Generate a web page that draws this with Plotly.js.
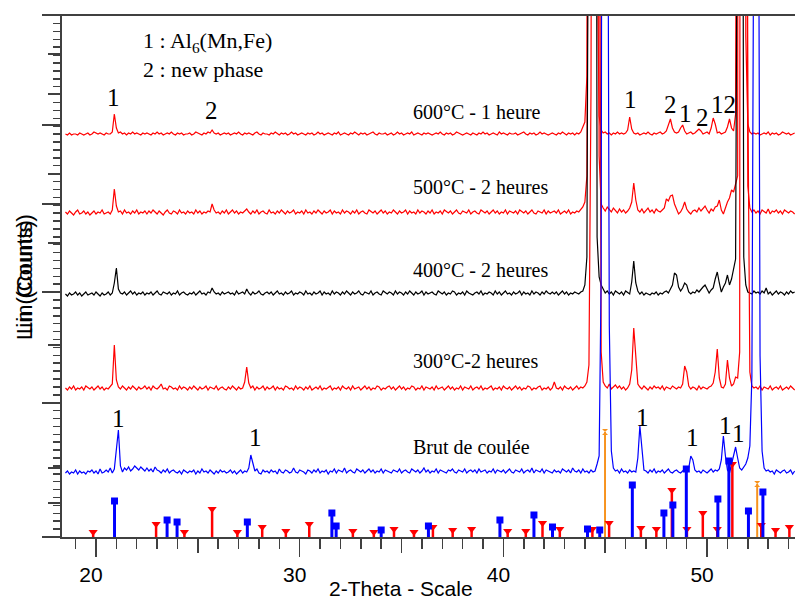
<!DOCTYPE html>
<html>
<head>
<meta charset="utf-8">
<script src="https://cdn.plot.ly/plotly-3.0.1.min.js"></script>
<style>html,body{margin:0;padding:0;background:#fff}</style>
</head>
<body>
<div id="chart" style="width:795px;height:600px"></div>
<script>
// 2-theta sampling of the scans
const scanStart = 18.5;
const scanStep = 0.1;

// Diffractograms (counts above each scan's own baseline)
const scan600 = [
  2,1,3,1,2,2,1,3,2,1,2,3,1,2,4,3,2,3,2,1,
  3,2,2,4,22,8,3,4,2,3,1,3,2,4,2,3,2,1,3,2,
  3,2,1,3,2,4,2,3,1,2,3,2,4,2,1,3,2,3,1,2,
  2,3,1,2,4,3,2,1,3,2,4,3,6,3,2,3,1,2,3,2,
  3,1,2,3,2,4,2,1,3,2,3,2,1,3,4,2,1,3,2,2,
  1,3,2,4,2,1,3,2,3,1,2,4,2,3,1,2,3,2,1,3,
  2,3,1,2,4,2,3,1,2,3,2,1,3,2,4,1,2,3,2,1,
  3,2,4,2,1,3,2,3,1,2,3,4,2,1,3,2,2,3,1,2,
  3,1,2,4,2,3,1,2,3,2,4,1,2,3,2,1,3,2,3,2,
  1,2,3,2,4,2,1,3,2,3,1,2,4,3,2,1,2,3,2,1,
  3,2,1,3,2,4,2,3,1,2,3,2,1,4,2,3,2,1,3,2,
  2,3,1,2,3,4,2,1,3,2,3,1,2,4,2,3,2,1,2,3,
  2,1,3,2,4,2,1,3,2,3,1,3,2,4,9,14,60,900,3000,3000,
  3000,200,20,6,3,4,2,3,1,3,2,4,2,3,2,3,6,19,7,3,
  2,3,1,2,3,2,4,2,1,3,2,3,4,2,3,5,10,17,8,4,
  3,4,8,11,5,2,3,4,2,3,5,7,5,2,3,4,2,8,18,12,
  3,4,2,3,4,9,17,8,5,22,1000,3000,3000,3000,100,12,4,2,3,2,
  3,1,2,3,2,4,1,3,2,3,1,2,4,3,2,3,1,2,3
];
const scan500 = [
  4,2,5,3,1,4,6,2,3,5,2,4,1,3,5,2,4,3,6,2,
  3,4,2,6,27,10,4,5,2,6,3,4,2,5,3,6,2,4,3,5,
  2,5,3,6,4,2,5,3,1,4,6,3,2,5,4,2,6,3,4,2,
  5,3,4,2,6,3,5,2,4,3,5,4,12,6,3,4,2,5,3,6,
  2,4,6,3,5,2,4,3,5,7,4,2,5,3,6,2,4,5,3,2,
  6,3,4,2,5,3,6,4,2,5,3,4,6,2,4,3,5,2,6,3,
  4,2,5,3,6,4,2,5,3,4,6,2,5,3,4,2,6,3,5,4,
  2,5,3,6,2,4,5,3,2,6,4,3,5,2,4,6,3,5,2,4,
  3,6,4,2,5,3,4,6,2,5,3,4,2,6,3,5,4,2,5,3,
  6,2,4,3,5,2,6,4,3,5,2,4,6,3,2,5,4,3,6,2,
  4,5,3,2,6,4,3,5,2,4,6,3,5,2,4,3,6,2,5,4,
  3,5,2,6,4,3,5,2,4,6,3,2,5,4,3,6,2,5,3,4,
  5,3,6,2,4,5,3,6,2,4,3,5,4,6,9,14,40,560,3000,3000,
  3000,1000,60,12,8,5,9,6,4,8,5,3,7,4,6,3,5,8,14,33,
  16,6,4,7,3,5,8,4,6,3,7,5,4,6,8,17,15,20,21,12,
  6,2,4,8,14,7,4,2,5,6,4,8,5,7,10,6,3,7,5,9,
  10,16,6,2,9,14,18,26,24,32,40,3000,3000,3000,800,30,8,4,6,3,
  5,2,6,4,3,7,2,5,4,6,3,5,2,6,4,3,5,4,2
];
const scan400 = [
  3,1,4,2,3,5,2,4,1,3,5,2,3,4,2,5,3,1,4,2,
  3,5,2,4,14,29,8,4,3,5,2,4,6,3,5,2,4,3,5,2,
  4,3,5,2,4,6,3,2,5,4,3,5,2,4,3,6,2,4,5,3,
  2,4,3,5,2,4,6,3,4,2,5,4,9,5,3,4,2,5,3,4,
  5,3,4,2,6,3,4,5,3,8,4,2,5,3,4,6,3,2,4,5,
  3,5,2,4,6,3,4,2,5,3,4,6,2,4,3,5,4,2,6,3,
  4,2,5,3,4,6,2,5,3,4,2,6,3,5,4,2,5,3,6,4,
  2,5,3,4,6,3,2,5,4,3,6,2,4,5,3,2,6,4,3,5,
  4,2,6,3,5,4,2,5,3,6,4,2,5,3,4,6,2,5,3,4,
  5,3,2,6,4,3,5,2,4,3,6,5,2,4,3,5,2,6,4,3,
  2,4,5,3,6,2,4,3,5,4,2,6,3,5,2,4,6,3,4,2,
  5,3,4,6,2,5,3,4,2,6,3,5,4,2,5,3,6,4,3,5,
  3,5,2,4,6,3,5,2,4,3,5,4,3,5,6,12,40,600,3000,3000,
  1500,60,20,12,8,4,6,3,5,2,6,4,3,5,2,6,4,3,15,36,
  14,6,3,5,2,4,3,2,4,3,5,2,4,3,5,6,4,8,12,24,
  22,10,6,9,14,12,5,3,5,4,7,5,8,10,12,8,4,7,9,18,
  25,14,5,10,14,22,12,18,30,38,520,3000,1000,40,12,5,4,3,6,4,
  5,3,6,4,9,3,5,2,4,6,3,5,4,2,5,3,6,4,5
];
const scan300 = [
  4,2,5,3,6,2,4,3,5,2,6,4,3,5,2,4,6,3,5,2,
  4,3,5,8,47,12,5,3,6,4,2,5,3,6,4,2,5,3,4,6,
  3,5,2,6,4,3,5,8,3,4,2,6,5,3,4,2,6,3,5,4,
  2,5,3,6,4,2,5,3,4,6,2,5,4,3,6,2,4,5,3,2,
  5,3,6,4,2,5,3,4,10,25,9,4,6,2,5,3,4,6,2,5,
  3,4,6,2,5,3,4,2,6,5,3,4,2,6,3,5,4,2,5,3,
  6,2,4,5,3,6,2,4,3,5,6,2,4,3,5,2,6,4,3,5,
  2,6,3,4,5,2,4,6,3,5,2,4,3,6,5,2,4,3,5,6,
  3,5,2,4,6,3,5,2,4,3,6,5,2,4,3,6,2,5,4,3,
  5,2,6,3,4,5,2,4,6,3,5,2,4,3,6,2,5,4,3,6,
  2,4,5,3,6,2,4,3,5,6,2,4,3,5,2,6,4,3,5,2,
  4,6,3,5,2,4,3,6,5,2,4,3,5,6,2,4,3,5,2,4,
  10,4,3,5,2,6,4,3,5,2,4,6,3,5,4,6,10,27,300,3000,
  3000,3000,700,40,10,6,4,8,3,5,7,4,6,3,5,2,4,8,22,64,
  30,8,5,3,6,4,2,5,3,6,4,5,3,6,2,5,4,3,6,4,
  3,5,4,8,26,20,6,3,5,4,2,6,3,5,4,3,5,6,9,20,
  43,14,5,4,8,32,14,6,8,15,14,40,3000,3000,3000,300,20,6,4,5,
  3,6,2,5,4,3,6,2,4,5,3,6,2,4,5,3,6,4,2
];
const scanCast = [
  3,5,2,4,3,6,2,5,3,4,2,5,4,6,3,5,2,7,3,4,
  6,4,8,3,7,30,46,10,4,8,6,9,5,7,10,8,6,9,7,5,
  8,5,7,4,9,6,5,3,6,4,7,3,5,6,4,3,5,2,6,4,
  3,5,4,6,2,5,3,7,4,5,3,6,4,2,5,3,6,4,5,3,
  4,6,3,5,2,4,6,3,5,4,8,21,14,5,7,3,2,6,4,5,
  3,6,4,5,2,7,4,3,6,5,3,4,8,4,3,6,5,4,2,6,
  5,3,6,4,7,3,5,4,6,2,5,4,7,3,6,5,4,8,3,5,
  6,4,3,7,5,4,6,3,5,7,4,6,3,5,4,7,3,6,5,4,
  3,6,5,4,7,3,5,6,4,3,7,5,4,6,3,5,8,4,6,3,
  5,4,7,3,6,5,4,3,6,5,7,4,3,6,5,4,7,3,5,6,
  4,6,3,7,4,5,6,3,5,4,7,3,6,5,4,6,3,5,7,4,
  3,6,5,4,7,3,5,6,4,8,3,6,5,4,7,3,6,5,4,3,
  6,4,5,3,7,5,4,6,3,8,5,4,6,3,7,4,5,3,6,4,
  5,12,20,200,600,3000,800,150,25,8,5,6,3,7,4,5,3,6,4,5,
  4,18,50,30,6,5,3,6,4,7,3,5,4,6,3,5,7,4,3,5,
  6,4,3,5,7,4,8,20,16,6,4,5,3,6,4,3,5,7,4,6,
  5,7,16,40,20,6,3,12,22,29,18,8,6,9,12,18,30,100,620,3000,
  800,120,25,8,5,6,4,5,2,6,4,3,5,6,3,4,6,2,5
];

// Vertical stacking of the scans
const scanNames = ['600°C - 1 heure', '500°C - 2 heures', '400°C - 2 heures', '300°C-2 heures', 'Brut de coulée'];
const scanBaselines = [401, 321, 240, 145, 61];
const scanColors = ['#ff0000', '#ff0000', '#000000', '#ff0000', '#0000ff'];

// Reference patterns (stick positions and relative intensities)
const refBluePos = [20.91, 23.49, 23.98, 27.43, 31.58, 31.79, 34.0, 36.32, 39.83, 41.50, 42.41, 44.13, 44.73, 46.33, 47.88, 48.32, 48.98, 50.53, 51.07, 52.03, 52.74];
const refBlueInt = [36, 17, 15, 15, 24, 11, 7, 11, 17, 22, 10, 8, 7, 52, 24, 32, 68, 38, 76, 26, 45];
const refRedPos = [19.86, 22.95, 24.34, 25.70, 26.94, 28.16, 29.32, 30.47, 32.61, 33.64, 34.63, 35.61, 36.54, 37.51, 38.44, 40.21, 41.10, 41.92, 42.77, 44.37, 45.19, 46.75, 47.51, 48.27, 49.01, 49.79, 50.50, 51.24, 52.66, 53.36, 54.04];
const refRedInt = [5, 13, 5, 28, 5, 10, 6, 13, 6, 5, 8, 5, 10, 7, 8, 6, 6, 14, 8, 8, 14, 9, 8, 47, 8, 24, 8, 73, 12, 7, 10];
const refOrangePos = [44.99, 52.46];
const refOrangeInt = [105, 53];

const X_RANGE = [18.331, 54.316];
const Y_RANGE = [0, 522];
const AXIS_COLOR = '#404040';
const SERIF = 'Liberation Serif, Times New Roman, serif';
const SANS = 'Liberation Sans, Arial, sans-serif';

const scans = [scan600, scan500, scan400, scan300, scanCast];
const traces = [];

scans.forEach((vals, k) => {
  const xs = vals.map((_, i) => +(scanStart + scanStep * i).toFixed(2));
  traces.push({
    type: 'scatter', mode: 'lines', name: scanNames[k],
    x: xs, y: vals.map(v => v + scanBaselines[k]),
    line: {color: scanColors[k], width: 1.2},
    hoverinfo: 'skip', showlegend: false
  });
});

function sticks(pos, inten, color, symbol, size, thick) {
  return {
    type: 'scatter', mode: 'markers', x: pos, y: inten,
    marker: {symbol: symbol, size: size, color: color, line: {width: 0}},
    error_y: {type: 'data', symmetric: false, array: pos.map(() => 0), arrayminus: inten,
              width: 0, thickness: thick, color: color},
    hoverinfo: 'skip', showlegend: false, cliponaxis: false
  };
}
traces.push(sticks(refOrangePos, refOrangeInt, '#f7931e', 'hourglass', 6, 2));
traces.push(sticks(refRedPos, refRedInt, '#ff0000', 'triangle-down', 8, 2.5));
traces.push(sticks(refBluePos, refBlueInt, '#0000ff', 'square', 7, 3));

// carriers for the extra tick layers
traces.push({type: 'scatter', x: [], y: [], xaxis: 'x2', yaxis: 'y2', showlegend: false});
traces.push({type: 'scatter', x: [], y: [], xaxis: 'x3', yaxis: 'y3', showlegend: false});

const baseAxis = {showgrid: false, zeroline: false, ticks: 'outside', tickcolor: AXIS_COLOR, tickwidth: 1.5, fixedrange: true};

const ann = [];
// phase key
ann.push({text: '1 : Al<sub>6</sub>(Mn,Fe)', x: 22.2, y: 495, xanchor: 'left', yanchor: 'middle'});
ann.push({text: '2 : new phase', x: 22.2, y: 468, xanchor: 'left', yanchor: 'middle'});
// scan captions
const captionY = [425, 350, 267, 176, 90];
scanNames.forEach((t, k) => ann.push({text: t, x: 35.44, y: captionY[k], xanchor: 'left', yanchor: 'middle', font: {family: SERIF, size: 20, color: '#000'}}));
// peak markers
const peakTags = [
  ['1', 20.86, 440], ['2', 25.66, 427], ['1', 46.25, 438], ['2', 48.21, 433], ['1', 48.95, 424], ['2', 49.78, 420], ['12', 50.81, 433],
  ['1', 21.10, 119], ['1', 27.82, 100], ['1', 46.84, 120], ['1', 49.29, 100], ['1', 50.91, 112], ['1', 51.54, 104]
];
peakTags.forEach(p => ann.push({text: p[0], x: p[1], y: p[2], xanchor: 'center', yanchor: 'middle', font: {family: SERIF, size: 25, color: '#000'}}));

ann.forEach(a => { a.showarrow = false; a.xref = a.xref || 'x'; a.yref = a.yref || 'y'; if (!a.font) a.font = {family: SERIF, size: 22, color: '#000'}; });

// axis titles
ann.push({text: '2-Theta - Scale', xref: 'paper', yref: 'paper', x: 0.4625, y: -0.098, xanchor: 'center', yanchor: 'middle', showarrow: false, font: {family: SANS, size: 21, color: '#000'}});
ann.push({text: 'Lin (Counts)', xref: 'paper', yref: 'paper', x: -0.0505, y: 0.3736, textangle: -90, xanchor: 'center', yanchor: 'bottom', showarrow: false, font: {family: SANS, size: 22, color: '#000'}});
ann.push({text: 'Lin (Counts)', xref: 'paper', yref: 'paper', x: -0.0505, y: 0.3851, textangle: -90, xanchor: 'center', yanchor: 'bottom', showarrow: false, font: {family: SANS, size: 22, color: '#000'}});

const layout = {
  width: 795, height: 600,
  margin: {l: 62, r: 0, t: 15, b: 63, pad: 0},
  paper_bgcolor: '#ffffff', plot_bgcolor: '#ffffff',
  showlegend: false,
  xaxis: Object.assign({}, baseAxis, {range: X_RANGE, tickmode: 'linear', tick0: 0, dtick: 1, ticklen: 10,
    showticklabels: false, showline: true, linecolor: AXIS_COLOR, linewidth: 2}),
  xaxis2: Object.assign({}, baseAxis, {overlaying: 'x', anchor: 'y', range: X_RANGE, tickmode: 'linear', tick0: 0, dtick: 5, ticklen: 15,
    showticklabels: false, showline: false}),
  xaxis3: Object.assign({}, baseAxis, {overlaying: 'x', anchor: 'y', range: X_RANGE, tickmode: 'linear', tick0: 0, dtick: 10, ticklen: 19,
    showticklabels: true, ticklabelshift: -5, showline: false, tickfont: {family: SANS, size: 21, color: '#000'}}),
  yaxis: Object.assign({}, baseAxis, {range: Y_RANGE, tickmode: 'linear', tick0: 0, dtick: 7.9, ticklen: 7,
    showticklabels: false, showline: true, linecolor: AXIS_COLOR, linewidth: 2}),
  yaxis2: Object.assign({}, baseAxis, {overlaying: 'y', anchor: 'x', range: Y_RANGE, tickmode: 'array',
    tickvals: [34, 69, 192, 294, 363, 443, 483], ticklen: 13, showticklabels: false, showline: false}),
  yaxis3: Object.assign({}, baseAxis, {overlaying: 'y', anchor: 'x', range: Y_RANGE, tickmode: 'array',
    tickvals: [0, 134, 245, 333, 412, 522], ticklen: 19, showticklabels: false, showline: false}),
  shapes: [
    {type: 'line', xref: 'paper', yref: 'paper', x0: -0.023, x1: 1, y0: 1, y1: 1, line: {color: AXIS_COLOR, width: 2}}
  ],
  annotations: ann
};

Plotly.newPlot('chart', traces, layout, {staticPlot: true, displayModeBar: false});
</script>
</body>
</html>
